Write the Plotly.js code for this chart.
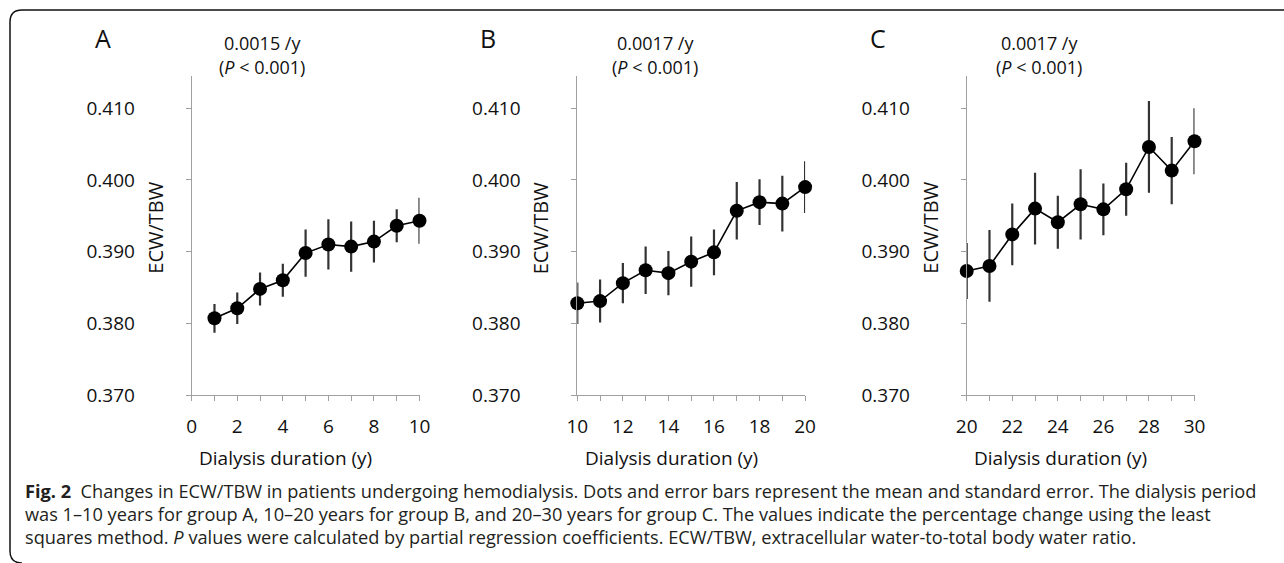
<!DOCTYPE html>
<html>
<head>
<meta charset="utf-8">
<script src="https://cdn.plot.ly/plotly-3.0.1.min.js"></script>
<style>
html,body{margin:0;padding:0;background:#fff;}
#chart{width:1284px;height:563px;}
</style>
</head>
<body>
<div id="chart"></div>
<script>
// ---- Data ----
const groupLabels = ["A", "B", "C"];
const slopeLabels = ["0.0015 /y", "0.0017 /y", "0.0017 /y"];
const pLabel = "(<i>P</i> < 0.001)";
const yTitle = "ECW/TBW";
const xTitle = "Dialysis duration (y)";
const yTicks = [0.370, 0.380, 0.390, 0.400, 0.410];

const yearsA = [1, 2, 3, 4, 5, 6, 7, 8, 9, 10];
const meanA  = [0.3807, 0.3821, 0.3848, 0.3860, 0.3898, 0.3910, 0.3907, 0.3914, 0.3936, 0.3943];
const seA    = [0.0020, 0.0022, 0.0023, 0.0023, 0.0033, 0.0035, 0.0035, 0.0029, 0.0023, 0.0032];

const yearsB = [10, 11, 12, 13, 14, 15, 16, 17, 18, 19, 20];
const meanB  = [0.3828, 0.3831, 0.3856, 0.3874, 0.3870, 0.3886, 0.3899, 0.3957, 0.3969, 0.3967, 0.3990];
const seB    = [0.0029, 0.0030, 0.0028, 0.0033, 0.0031, 0.0035, 0.0032, 0.0040, 0.0032, 0.0039, 0.0036];

const yearsC = [20, 21, 22, 23, 24, 25, 26, 27, 28, 29, 30];
const meanC  = [0.3873, 0.3880, 0.3924, 0.3960, 0.3941, 0.3966, 0.3959, 0.3987, 0.4046, 0.4013, 0.4054];
const seC    = [0.0039, 0.0050, 0.0043, 0.0050, 0.0037, 0.0049, 0.0036, 0.0037, 0.0064, 0.0047, 0.0046];

const xRanges = [[0, 10], [10, 20], [20, 30]];

const captionLines = [
  "<b>Fig. 2</b>  Changes in ECW/TBW in patients undergoing hemodialysis. Dots and error bars represent the mean and standard error. The dialysis period",
  "was 1–10 years for group A, 10–20 years for group B, and 20–30 years for group C. The values indicate the percentage change using the least",
  "squares method. <i>P</i> values were calculated by partial regression coefficients. ECW/TBW, extracellular water-to-total body water ratio."
];

// ---- Layout helpers ----
const W = 1284, H = 563;
const fx = x => x / W;
const fy = y => 1 - y / H;
const FONT = "Open Sans, Noto Sans, sans-serif";
const AXC = "#a0a0a0";

const axisLeftPx = [191.7, 577.3, 966.7];
const axisWidthPx = 227.8;
const yDomain = [fy(395), fy(76)];

const series = [[yearsA, meanA, seA], [yearsB, meanB, seB], [yearsC, meanC, seC]];

const traces = series.map((s, i) => ({
  type: "scatter",
  mode: "lines+markers",
  x: s[0], y: s[1],
  xaxis: i === 0 ? "x" : "x" + (i + 1),
  yaxis: i === 0 ? "y" : "y" + (i + 1),
  line: {color: "#000", width: 1.6},
  marker: {color: "#000", size: 14},
  error_y: {type: "data", array: s[2], visible: true, width: 0, thickness: 2.2, color: "#333"},
  cliponaxis: false,
  showlegend: false,
  hoverinfo: "x+y"
}));

const layout = {
  width: W, height: H,
  margin: {l: 0, r: 0, t: 0, b: 0},
  paper_bgcolor: "#fff", plot_bgcolor: "#fff",
  font: {family: FONT, color: "#111", size: 19},
  showlegend: false,
  annotations: [],
  shapes: [{
    type: "path", xref: "paper", yref: "paper",
    path: `M ${fx(1290)},${fy(10)} L ${fx(22)},${fy(10)} Q ${fx(10)},${fy(10)} ${fx(10)},${fy(22)} L ${fx(10)},${fy(551)} Q ${fx(10)},${fy(563)} ${fx(22)},${fy(563)}`,
    line: {color: "#111", width: 1.5}
  }]
};

for (let i = 0; i < 3; i++) {
  const sfx = i === 0 ? "" : String(i + 1);
  const left = axisLeftPx[i];
  layout["xaxis" + sfx] = {
    domain: [fx(left), fx(left + axisWidthPx)],
    anchor: "y" + sfx,
    range: xRanges[i],
    tick0: xRanges[i][0], dtick: 2,
    ticks: "outside", ticklen: 5, tickcolor: AXC, tickwidth: 1,
    minor: {dtick: 1, ticks: "outside", ticklen: 5, tickcolor: AXC, tickwidth: 1, showgrid: false},
    showline: true, linecolor: AXC, linewidth: 1,
    showgrid: false, zeroline: false,
    tickfont: {family: FONT, size: 19, color: "#111"},
    ticklabelstandoff: 9,
    fixedrange: true
  };
  layout["yaxis" + sfx] = {
    domain: yDomain,
    anchor: "x" + sfx,
    range: [0.370, 0.4145],
    tickvals: yTicks,
    tickformat: ".3f",
    ticks: "outside", ticklen: 5, tickcolor: AXC, tickwidth: 1,
    showline: true, linecolor: AXC, linewidth: 1,
    showgrid: false, zeroline: false,
    tickfont: {family: FONT, size: 19, color: "#111"},
    ticklabelstandoff: 47,
    fixedrange: true
  };
  // panel letter
  layout.annotations.push({xref: "paper", yref: "paper", x: fx(left - 89), y: fy(38),
    text: groupLabels[i], showarrow: false, xanchor: "center", yanchor: "middle",
    font: {family: FONT, size: 25, color: "#111"}});
  // slope and P
  const sx = [262, 655, 1039][i];
  layout.annotations.push({xref: "paper", yref: "paper", x: fx(sx), y: fy(43),
    text: slopeLabels[i], showarrow: false, xanchor: "center", yanchor: "middle",
    font: {family: FONT, size: 18, color: "#111"}});
  layout.annotations.push({xref: "paper", yref: "paper", x: fx(sx), y: fy(67),
    text: pLabel, showarrow: false, xanchor: "center", yanchor: "middle",
    font: {family: FONT, size: 18, color: "#111"}});
  // y title (sits between tick labels and axis)
  layout.annotations.push({xref: "paper", yref: "paper", x: fx(left - 37), y: fy(228),
    text: yTitle, showarrow: false, textangle: -90, xanchor: "center", yanchor: "middle",
    font: {family: FONT, size: 20, color: "#111"}});
  // x title
  layout.annotations.push({xref: "paper", yref: "paper", x: fx(left + 94), y: fy(458),
    text: xTitle, showarrow: false, xanchor: "center", yanchor: "middle",
    font: {family: FONT, size: 19, color: "#111"}});
}

// caption
[491, 514, 537].forEach((yy, k) => {
  layout.annotations.push({xref: "paper", yref: "paper", x: fx(23), y: fy(yy),
    text: captionLines[k], showarrow: false, xanchor: "left", yanchor: "middle", align: "left",
    font: {family: FONT, size: 18.2, color: "#231f20"}});
});

Plotly.newPlot("chart", traces, layout, {displayModeBar: false, staticPlot: true});
</script>
</body>
</html>
